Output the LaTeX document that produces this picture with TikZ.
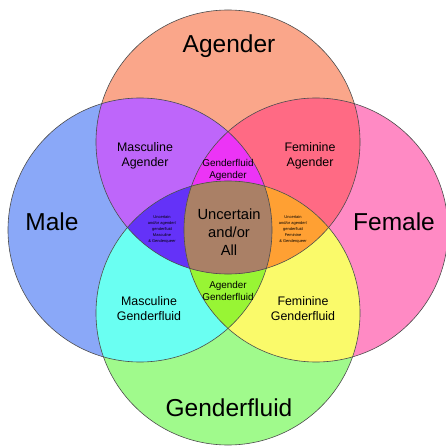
\documentclass[tikz,border=0pt]{standalone}
\usepackage{fontspec}
\setmainfont{Liberation Sans}
\definecolor{cAg}{HTML}{FAA68A}
\definecolor{cMa}{HTML}{8AA8F8}
\definecolor{cFe}{HTML}{FF8AC4}
\definecolor{cGf}{HTML}{A0FA8C}
\definecolor{cMA}{HTML}{BE66FA}
\definecolor{cFA}{HTML}{FF6A84}
\definecolor{cGA}{HTML}{EC34F6}
\definecolor{cMG}{HTML}{6AFFF2}
\definecolor{cFG}{HTML}{FAFA6A}
\definecolor{cAG}{HTML}{98F534}
\definecolor{cVi}{HTML}{6432F8}
\definecolor{cOr}{HTML}{FFA033}
\definecolor{cBr}{HTML}{AA8066}
\tikzset{
  biglbl/.style={font=\fontsize{24.5}{28}\selectfont, text=black},
  midlbl/.style={font=\fontsize{12.4}{15}\selectfont, align=center, text=black},
  ctrlbl/.style={font=\fontsize{14.7}{18}\selectfont, align=center, text=black},
  smllbl/.style={font=\fontsize{9.9}{12}\selectfont, align=center, text=black},
  tinylbl/.style={font=\fontsize{4}{6}\selectfont, align=center, text=black},
  ring/.style={draw=black!70, line width=0.6pt}
}
\begin{document}
\begin{tikzpicture}[x=1pt,y=-1pt]
\useasboundingbox (0,0) rectangle (445,446);
\coordinate (L) at (140,230);
\coordinate (R) at (316,230);
\coordinate (T) at (228,142);
\coordinate (B) at (228,313);
% single circles
\fill[cAg] (T) circle (132pt);
\fill[cMa] (L) circle (132pt);
\fill[cFe] (R) circle (132pt);
\fill[cGf] (B) circle (132pt);
% pairs
\begin{scope}\clip (L) circle (132pt); \fill[cMA] (T) circle (132pt); \end{scope}
\begin{scope}\clip (R) circle (132pt); \fill[cFA] (T) circle (132pt); \end{scope}
\begin{scope}\clip (L) circle (132pt); \fill[cMG] (B) circle (132pt); \end{scope}
\begin{scope}\clip (R) circle (132pt); \fill[cFG] (B) circle (132pt); \end{scope}
% triples
\begin{scope}\clip (L) circle (132pt); \clip (R) circle (132pt); \fill[cGA] (T) circle (132pt); \end{scope}
\begin{scope}\clip (L) circle (132pt); \clip (R) circle (132pt); \fill[cAG] (B) circle (132pt); \end{scope}
\begin{scope}\clip (T) circle (132pt); \clip (B) circle (132pt); \fill[cVi] (L) circle (132pt); \end{scope}
\begin{scope}\clip (T) circle (132pt); \clip (B) circle (132pt); \fill[cOr] (R) circle (132pt); \end{scope}
% all four
\begin{scope}\clip (T) circle (132pt); \clip (B) circle (132pt); \clip (L) circle (132pt); \fill[cBr] (R) circle (132pt); \end{scope}
% outlines
\draw[ring] (T) circle (132pt);
\draw[ring] (L) circle (132pt);
\draw[ring] (R) circle (132pt);
\draw[ring] (B) circle (132pt);
% labels
\node[biglbl] (agender) at (229,46) {Agender};
\node[biglbl] (male) at (52,222) {Male};
\node[biglbl] (female) at (394,222) {Female};
\node[biglbl] (gfluid) at (229,408) {Genderfluid};
\node[midlbl] (mascag) at (145,155.5) {Masculine\\Agender};
\node[midlbl] (femag) at (310,155.5) {Feminine\\Agender};
\node[midlbl] (mascgf) at (149,308.5) {Masculine\\Genderfluid};
\node[midlbl] (femgf) at (303,308.5) {Feminine\\Genderfluid};
\node[smllbl] (gfag) at (228,170) {Genderfluid\\Agender};
\node[smllbl] (aggf) at (228,291) {Agender\\Genderfluid};
\node[ctrlbl] (center) at (229,232) {Uncertain\\and/or\\All};
\node[tinylbl] (leftsm) at (162,229.5) {Uncertain\\and/or agender/\\genderfluid\\Masculine\\\& Genderqueer};
\node[tinylbl] (rightsm) at (293,229.5) {Uncertain\\and/or agender/\\genderfluid\\Feminine\\\& Genderqueer};
\end{tikzpicture}
\end{document}
